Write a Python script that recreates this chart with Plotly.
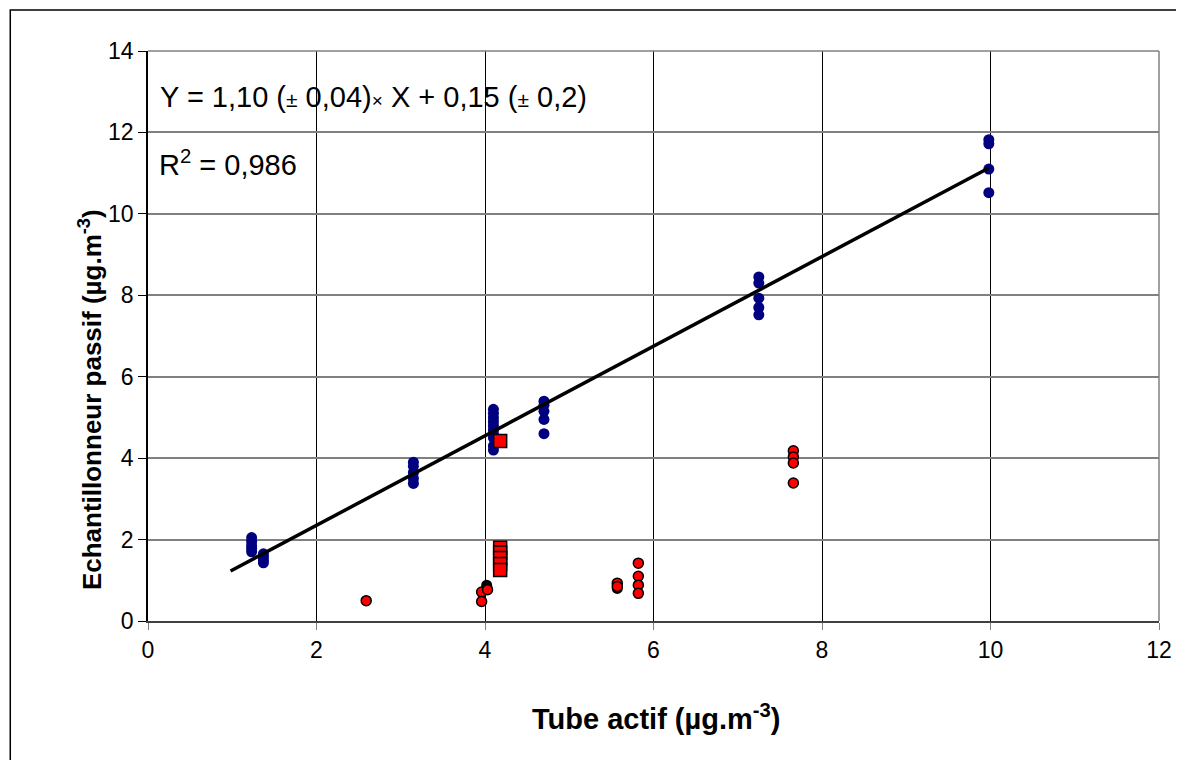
import plotly.graph_objects as go

# Blue series (passive vs active, main set)
blue_x = [1.23]*5 + [1.37]*4 + [3.15]*5 + [4.1]*10 + [4.7]*5 + [7.25]*5 + [9.98]*4
blue_y = [2.05, 1.95, 1.85, 1.78, 1.70,
          1.65, 1.58, 1.50, 1.43,
          3.90, 3.80, 3.65, 3.50, 3.38,
          5.20, 5.10, 5.00, 4.90, 4.80, 4.70, 4.60, 4.50, 4.30, 4.20,
          5.40, 5.30, 5.15, 4.95, 4.60,
          8.45, 8.30, 7.93, 7.70, 7.52,
          11.82, 11.72, 11.10, 10.52]

# Black circle series
black_x = [4.02, 5.57]
black_y = [0.88, 0.80]

# Red circles
red_x = [2.59, 3.96, 4.03, 3.96, 5.57, 5.57, 5.82, 5.82, 5.82, 5.82, 7.66, 7.66, 7.66, 7.66]
red_y = [0.50, 0.71, 0.77, 0.48, 0.93, 0.85, 1.42, 1.10, 0.88, 0.68, 4.18, 4.03, 3.88, 3.39]

# Red squares
sq_x = [4.18]*6
sq_y = [4.42, 1.80, 1.68, 1.55, 1.40, 1.25]

# Regression fit
slope, intercept = 1.10, 0.15
fit_x = [0.98, 9.98]
fit_y = [slope*v + intercept for v in fit_x]

x_ticks = [0, 2, 4, 6, 8, 10, 12]
y_ticks = [0, 2, 4, 6, 8, 10, 12, 14]

FONT = "Liberation Sans, Arial, sans-serif"

fig = go.Figure()
fig.add_trace(go.Scatter(x=blue_x, y=blue_y, mode="markers",
                         marker=dict(color="#000080", size=11, line=dict(width=0)),
                         showlegend=False))
fig.add_trace(go.Scatter(x=black_x, y=black_y, mode="markers",
                         marker=dict(color="#000000", size=11, line=dict(width=0)),
                         showlegend=False))
fig.add_trace(go.Scatter(x=red_x, y=red_y, mode="markers",
                         marker=dict(color="#ff0000", size=10, line=dict(color="#000000", width=1.5)),
                         showlegend=False))
fig.add_trace(go.Scatter(x=sq_x, y=sq_y, mode="markers",
                         marker=dict(symbol="square", color="#ff0000", size=13,
                                     line=dict(color="#000000", width=1.5)),
                         showlegend=False))
fig.add_trace(go.Scatter(x=fit_x, y=fit_y, mode="lines",
                         line=dict(color="#000000", width=3.5), showlegend=False))

fig.update_xaxes(range=[0, 12], tickvals=x_ticks, ticktext=[str(v) for v in x_ticks],
                 showgrid=True, gridcolor="#000000", gridwidth=1,
                 showline=True, linecolor="#404040", linewidth=2, mirror=False,
                 ticks="outside", ticklen=7, tickcolor="#808080",
                 tickfont=dict(family=FONT, size=23, color="#000"),
                 zeroline=False)
fig.update_yaxes(range=[0, 14], tickvals=y_ticks, ticktext=[str(v) for v in y_ticks],
                 showgrid=True, gridcolor="#808080", gridwidth=1.5,
                 showline=True, linecolor="#000000", linewidth=1.5,
                 ticks="outside", ticklen=8, tickcolor="#000000",
                 tickfont=dict(family=FONT, size=23, color="#000"),
                 zeroline=False)

# Page pixel geometry of the plot area (page has an 8px body margin)
L, T, W, H = 148, 51, 1013, 570
OFF = 8
def px_to_paper_x(px):
    return (px - L) / W
def px_to_paper_y(py):
    return ((T + H) - py) / H

# Right and top plot borders
fig.add_shape(type="line", xref="paper", yref="paper", x0=0, x1=1, y0=1, y1=1,
              line=dict(color="#808080", width=1.5))
fig.add_shape(type="line", xref="paper", yref="paper", x0=1, x1=1, y0=0, y1=1,
              line=dict(color="#808080", width=1.5))

# Outer chart frame
fig.add_shape(type="rect", xref="paper", yref="paper",
              x0=px_to_paper_x(10), x1=px_to_paper_x(1200),
              y0=px_to_paper_y(780), y1=px_to_paper_y(10),
              line=dict(color="#000000", width=1.5), layer="below")

fig.add_annotation(xref="paper", yref="paper", x=px_to_paper_x(158), y=px_to_paper_y(97),
                   xanchor="left", yanchor="middle", showarrow=False,
                   text="Y = 1,10 (<span style='font-size:21px'>±</span> 0,04)<span style='font-size:19px'>×</span> X + 0,15 (<span style='font-size:21px'>±</span> 0,2)",
                   font=dict(family=FONT, size=29, color="#000"))
fig.add_annotation(xref="paper", yref="paper", x=px_to_paper_x(157), y=px_to_paper_y(163),
                   xanchor="left", yanchor="middle", showarrow=False,
                   text="R<sup>2</sup> = 0,986",
                   font=dict(family=FONT, size=29, color="#000"))

# Axis titles
fig.add_annotation(xref="paper", yref="paper", x=px_to_paper_x(658), y=px_to_paper_y(717),
                   xanchor="center", yanchor="middle", showarrow=False,
                   text="<b>Tube actif (µg.m<sup>-3</sup>)</b>",
                   font=dict(family=FONT, size=29, color="#000"))
fig.add_annotation(xref="paper", yref="paper", x=px_to_paper_x(90), y=px_to_paper_y(400),
                   xanchor="center", yanchor="middle", showarrow=False, textangle=-90,
                   text="<b>Echantillonneur passif (µg.m<sup>-3</sup>)</b>",
                   font=dict(family=FONT, size=26, color="#000"))

fig.update_layout(width=1184 - OFF, height=760 - OFF,
                  margin=dict(l=L - OFF, r=1184 - L - W, t=T - OFF, b=760 - T - H),
                  plot_bgcolor="#ffffff", paper_bgcolor="#ffffff",
                  font=dict(family=FONT, color="#000"))

fig.write_html("out.html")
